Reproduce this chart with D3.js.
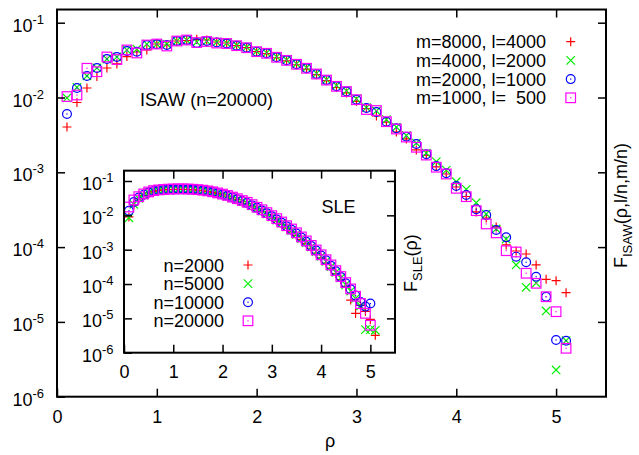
<!DOCTYPE html>
<html><head><meta charset="utf-8">
<script src="https://cdn.jsdelivr.net/npm/d3@7"></script>
<style>
body{margin:0;background:#fff}
text{font-family:"Liberation Sans",Arial,sans-serif;fill:#000}
</style>
</head><body>
<svg id="chart" width="639" height="455"></svg>
<script>
// ---------- data ----------
const rho = [0.1,0.2,0.3,0.4,0.5,0.6,0.7,0.8,0.9,1.0,1.1,1.2,1.3,1.4,1.5,1.6,1.7,1.8,1.9,2.0,
  2.1,2.2,2.3,2.4,2.5,2.6,2.7,2.8,2.9,3.0,3.1,3.2,3.3,3.4,3.5,3.6,3.7,3.8,3.9,4.0,
  4.1,4.2,4.3,4.4,4.5,4.6,4.7,4.8,4.9,5.0,5.1];

const isawLabels = ["m=8000, l=4000","m=4000, l=2000","m=2000, l=1000","m=1000, l=  500"];
const isawM8000 = [4.03e-3,8.58e-3,1.34e-2,1.91e-2,2.48e-2,2.81e-2,3.53e-2,4.06e-2,4.32e-2,5.19e-2,
  5.03e-2,5.69e-2,5.78e-2,6.00e-2,5.87e-2,5.52e-2,5.35e-2,4.93e-2,4.63e-2,4.10e-2,
  3.85e-2,3.40e-2,3.08e-2,2.74e-2,2.40e-2,2.02e-2,1.68e-2,1.36e-2,1.15e-2,8.9e-3,
  7.13e-3,5.66e-3,4.70e-3,3.46e-3,2.79e-3,1.99e-3,1.68e-3,1.18e-3,9.49e-4,6.36e-4,
  4.75e-4,2.95e-4,2.45e-4,1.86e-4,1.07e-4,8.87e-5,8.09e-5,5.77e-5,3.71e-5,3.56e-5,2.46e-5];
const isawM4000 = [9.85e-3,1.37e-2,1.94e-2,2.48e-2,3.27e-2,3.48e-2,4.32e-2,4.45e-2,5.19e-2,5.19e-2,
  5.19e-2,5.69e-2,5.87e-2,5.52e-2,5.69e-2,5.52e-2,5.35e-2,5.0e-2,4.70e-2,4.15e-2,
  3.95e-2,3.50e-2,3.18e-2,2.82e-2,2.50e-2,2.10e-2,1.74e-2,1.45e-2,1.23e-2,9.6e-3,
  7.35e-3,6.60e-3,5.08e-3,4.03e-3,3.10e-3,2.46e-3,1.81e-3,1.39e-3,1.07e-3,7.48e-4,
  5.93e-4,3.92e-4,2.77e-4,1.75e-4,1.28e-4,5.77e-5,2.90e-5,3.31e-5,1.40e-5,2.28e-6,5.61e-6];
const isawM2000 = [6.02e-3,1.34e-2,1.94e-2,2.48e-2,3.27e-2,3.48e-2,4.18e-2,4.10e-2,5.03e-2,5.14e-2,
  5.03e-2,5.69e-2,5.87e-2,5.35e-2,5.69e-2,5.43e-2,5.27e-2,4.93e-2,4.63e-2,4.10e-2,
  3.90e-2,3.45e-2,3.14e-2,2.78e-2,2.46e-2,2.06e-2,1.71e-2,1.41e-2,1.20e-2,9.35e-3,
  7.24e-3,6.40e-3,4.75e-3,3.87e-3,2.99e-3,2.39e-3,1.74e-3,1.21e-3,9.69e-4,6.56e-4,
  4.97e-4,3.20e-4,2.69e-4,1.69e-4,1.35e-4,7.45e-5,6.27e-5,4.02e-5,2.17e-5,5.73e-6,5.61e-6];
const isawM1000 = [1.03e-2,1.08e-2,2.46e-2,2.21e-2,3.48e-2,3.22e-2,4.32e-2,3.94e-2,5.03e-2,5.19e-2,
  4.88e-2,5.69e-2,5.87e-2,5.43e-2,5.61e-2,5.35e-2,5.27e-2,4.93e-2,4.63e-2,4.10e-2,
  3.90e-2,3.45e-2,3.14e-2,2.78e-2,2.46e-2,2.06e-2,1.71e-2,1.41e-2,1.20e-2,9.35e-3,
  6.91e-3,6.70e-3,4.75e-3,3.79e-3,2.96e-3,2.16e-3,1.70e-3,1.17e-3,9.49e-4,6.11e-4,
  4.72e-4,3.07e-4,2.04e-4,1.55e-4,8.95e-5,8.6e-5,4.47e-5,3.28e-5,2.17e-5,1.37e-5,4.44e-6];

const sleLabels = ["n=2000","n=5000","n=10000","n=20000"];
const sleN2000 = [9.0e-3,2.0e-2,3.0e-2,3.8e-2,4.5e-2,5.0e-2,5.3e-2,5.5e-2,5.6e-2,5.65e-2,
  5.7e-2,5.7e-2,5.65e-2,5.55e-2,5.4e-2,5.2e-2,4.95e-2,4.65e-2,4.3e-2,3.95e-2,
  3.6e-2,3.2e-2,2.85e-2,2.5e-2,2.2e-2,1.85e-2,1.55e-2,1.28e-2,1.05e-2,8.6e-3,
  6.9e-3,5.5e-3,4.3e-3,3.3e-3,2.6e-3,1.95e-3,1.5e-3,1.1e-3,8.0e-4,5.8e-4,
  4.1e-4,2.9e-4,2.0e-4,1.35e-4,8.5e-5,3.4e-5,1.39e-5,2.4e-5,1.6e-5,9.3e-6,3.2e-6];
const sleN5000 = [8.5e-3,2.1e-2,3.1e-2,3.9e-2,4.55e-2,5.05e-2,5.3e-2,5.5e-2,5.6e-2,5.7e-2,
  5.75e-2,5.75e-2,5.7e-2,5.6e-2,5.45e-2,5.25e-2,5.0e-2,4.7e-2,4.35e-2,4.0e-2,
  3.65e-2,3.25e-2,2.9e-2,2.55e-2,2.25e-2,1.9e-2,1.6e-2,1.34e-2,1.1e-2,9.0e-3,
  7.3e-3,5.9e-3,4.6e-3,3.6e-3,2.8e-3,2.1e-3,1.6e-3,1.2e-3,8.8e-4,6.4e-4,
  4.6e-4,3.2e-4,2.2e-4,1.5e-4,9.5e-5,6.2e-5,3.8e-5,2.3e-5,4.7e-6,4.7e-6,4.5e-6];
const sleN10000 = [1.36e-2,2.45e-2,3.3e-2,4.0e-2,4.6e-2,5.1e-2,5.35e-2,5.5e-2,5.65e-2,5.7e-2,
  5.75e-2,5.75e-2,5.7e-2,5.65e-2,5.5e-2,5.3e-2,5.05e-2,4.75e-2,4.4e-2,4.05e-2,
  3.7e-2,3.3e-2,2.95e-2,2.6e-2,2.3e-2,1.95e-2,1.65e-2,1.38e-2,1.15e-2,9.4e-3,
  7.6e-3,6.1e-3,4.8e-3,3.8e-3,2.95e-3,2.25e-3,1.7e-3,1.27e-3,9.4e-4,6.8e-4,
  4.9e-4,3.4e-4,2.35e-4,1.6e-4,1.05e-4,7.0e-5,4.6e-5,3.0e-5,2.2e-5,2.7e-5,null];
const sleN20000 = [1.75e-2,2.8e-2,3.5e-2,4.2e-2,4.8e-2,5.25e-2,5.5e-2,5.65e-2,5.8e-2,5.85e-2,
  5.9e-2,5.9e-2,5.85e-2,5.75e-2,5.6e-2,5.4e-2,5.15e-2,4.85e-2,4.5e-2,4.15e-2,
  3.8e-2,3.4e-2,3.05e-2,2.7e-2,2.4e-2,2.05e-2,1.72e-2,1.45e-2,1.2e-2,9.8e-3,
  8.0e-3,6.4e-3,5.0e-3,4.0e-3,3.1e-3,2.35e-3,1.8e-3,1.33e-3,9.8e-4,7.1e-4,
  5.1e-4,3.6e-4,2.45e-4,1.65e-4,1.1e-4,7.2e-5,4.4e-5,2.7e-5,1.4e-5,6.3e-6,null];

const xTickValues = [0,1,2,3,4,5];
const yTickValues = [1e-6,1e-5,1e-4,1e-3,1e-2,1e-1];
const xDomain = [0,5.5];
const yDomainMain = [1e-6,0.15];
const yDomainInset = [1e-6,0.2];

// ---------- drawing ----------
const svg = d3.select("#chart");
svg.append("rect").attr("width",639).attr("height",455).attr("fill","#fff");

const colors = ["#ff0000","#00f000","#0000ff","#ff00ff"];
const symbols = ["plus","cross","circle","square"];

function drawSymbol(g, type, color){
  const sw = 1.2;
  if(type==="plus"){
    g.append("path").attr("d","M-4.5,0H4.5M0,-4.5V4.5").attr("stroke",color).attr("stroke-width",sw).attr("fill","none");
  } else if(type==="cross"){
    g.append("path").attr("d","M-4.2,-4.2L4.2,4.2M-4.2,4.2L4.2,-4.2").attr("stroke",color).attr("stroke-width",sw).attr("fill","none");
  } else if(type==="circle"){
    g.append("circle").attr("r",4.4).attr("stroke",color).attr("stroke-width",sw).attr("fill","none");
    g.append("rect").attr("x",-0.6).attr("y",-0.6).attr("width",1.2).attr("height",1.2).attr("fill",color);
  } else {
    g.append("rect").attr("x",-4.8).attr("y",-4.8).attr("width",9.6).attr("height",9.6).attr("stroke",color).attr("stroke-width",sw).attr("fill","none");
    g.append("rect").attr("x",-0.6).attr("y",-0.6).attr("width",1.2).attr("height",1.2).attr("fill",color);
  }
}

function supLabel(sel){
  sel.each(function(d){
    const t = d3.select(this);
    const e = Math.round(Math.log10(d));
    t.text(null);
    t.append("tspan").text("10");
    t.append("tspan").attr("font-size",13).attr("dy",-8).text(String(e));
  });
}

function drawAxes(g, x, y, opt){
  const [y0,y1] = y.range();
  const [x0,x1] = x.range();
  const tk = 8;
  const bottom = g.append("g").attr("transform",`translate(0,${y0})`)
    .call(d3.axisBottom(x).tickValues(xTickValues).tickSize(-tk).tickSizeOuter(0).tickPadding(opt.padX).tickFormat(d3.format("d")));
  const top = g.append("g").attr("transform",`translate(0,${y1})`)
    .call(d3.axisTop(x).tickValues(xTickValues.filter(v=>v>0)).tickSize(-tk).tickSizeOuter(0).tickFormat(""));
  const left = g.append("g").attr("transform",`translate(${x0},0)`)
    .call(d3.axisLeft(y).tickValues(yTickValues).tickSize(-tk).tickSizeOuter(0).tickPadding(opt.padY));
  const right = g.append("g").attr("transform",`translate(${x1},0)`)
    .call(d3.axisRight(y).tickValues(yTickValues.filter(v=>v>1e-6)).tickSize(-tk).tickSizeOuter(0).tickFormat(""));
  [bottom,top,left,right].forEach(a=>{
    a.select(".domain").remove();
    a.attr("font-family",null).attr("font-size",null);
    a.selectAll(".tick line").attr("stroke","#000").attr("stroke-width",1.5);
    a.selectAll("text").attr("font-size",18).attr("fill","#000");
  });
  left.selectAll(".tick text").attr("dy",8.5).call(supLabel);
  g.append("rect").attr("x",x0).attr("y",y1).attr("width",x1-x0).attr("height",y0-y1)
    .attr("fill","none").attr("stroke","#000").attr("stroke-width",2);
}

function drawSeries(g, x, y, seriesList){
  seriesList.forEach((vals,i)=>{
    const pts = rho.map((r,j)=>[r,vals[j]]).filter(p=>p[1]!=null);
    g.append("g").selectAll("g").data(pts).join("g")
      .attr("transform",d=>`translate(${x(d[0])},${y(d[1])})`)
      .each(function(){ drawSymbol(d3.select(this), symbols[i], colors[i]); });
  });
}

// main plot
const xMain = d3.scaleLinear().domain(xDomain).range([57,606]);
const yMain = d3.scaleLog().domain(yDomainMain)
  .range([396.7, 396.7 - 74.8*Math.log10(yDomainMain[1]/yDomainMain[0])]);
const gMain = svg.append("g");
drawSeries(gMain, xMain, yMain, [isawM8000,isawM4000,isawM2000,isawM1000]);
drawAxes(gMain, xMain, yMain, {padX:13.5, padY:13});

// main legend
const legMain = svg.append("g");
isawLabels.forEach((lab,i)=>{
  const yy = 41.7 + i*18.7;
  legMain.append("text").attr("x",546).attr("y",yy+6.5).attr("text-anchor","end")
    .attr("font-size",18).style("white-space","pre").text(lab);
  drawSymbol(legMain.append("g").attr("transform",`translate(570.7,${yy})`), symbols[i], colors[i]);
});

svg.append("text").attr("x",140).attr("y",106).attr("font-size",18).text("ISAW (n=20000)");

// main axis labels
svg.append("text").attr("x",330).attr("y",447).attr("text-anchor","middle").attr("font-size",18).text("ρ");
const yl = svg.append("text").attr("transform","translate(627,268) rotate(-90)").attr("font-size",18);
yl.append("tspan").text("F");
yl.append("tspan").attr("font-size",13).attr("dy",5).text("ISAW");
yl.append("tspan").attr("dy",-5).text("(ρ,l/n,m/n)");

// inset
const xIn = d3.scaleLinear().domain(xDomain).range([124,395]);
const yIn = d3.scaleLog().domain(yDomainInset)
  .range([352.7, 352.7 - 34.34*Math.log10(yDomainInset[1]/yDomainInset[0])]);
const gIn = svg.append("g");
gIn.append("rect").attr("x",124).attr("y",yIn.range()[1]).attr("width",395-124)
  .attr("height",352.7-yIn.range()[1]).attr("fill","#fff");
drawSeries(gIn, xIn, yIn, [sleN2000,sleN5000,sleN10000,sleN20000]);
drawAxes(gIn, xIn, yIn, {padX:12.5, padY:10.5});

const legIn = svg.append("g");
sleLabels.forEach((lab,i)=>{
  const yy = 265 + i*18.6;
  legIn.append("text").attr("x",224).attr("y",yy+6.5).attr("text-anchor","end")
    .attr("font-size",18).text(lab);
  drawSymbol(legIn.append("g").attr("transform",`translate(248,${yy})`), symbols[i], colors[i]);
});
svg.append("text").attr("x",321.5).attr("y",212.7).attr("font-size",18).text("SLE");
const il = svg.append("text").attr("transform","translate(417,292) rotate(-90)").attr("font-size",18);
il.append("tspan").text("F");
il.append("tspan").attr("font-size",13).attr("dy",5).text("SLE");
il.append("tspan").attr("dy",-5).text("(ρ)");
</script>
</body></html>
